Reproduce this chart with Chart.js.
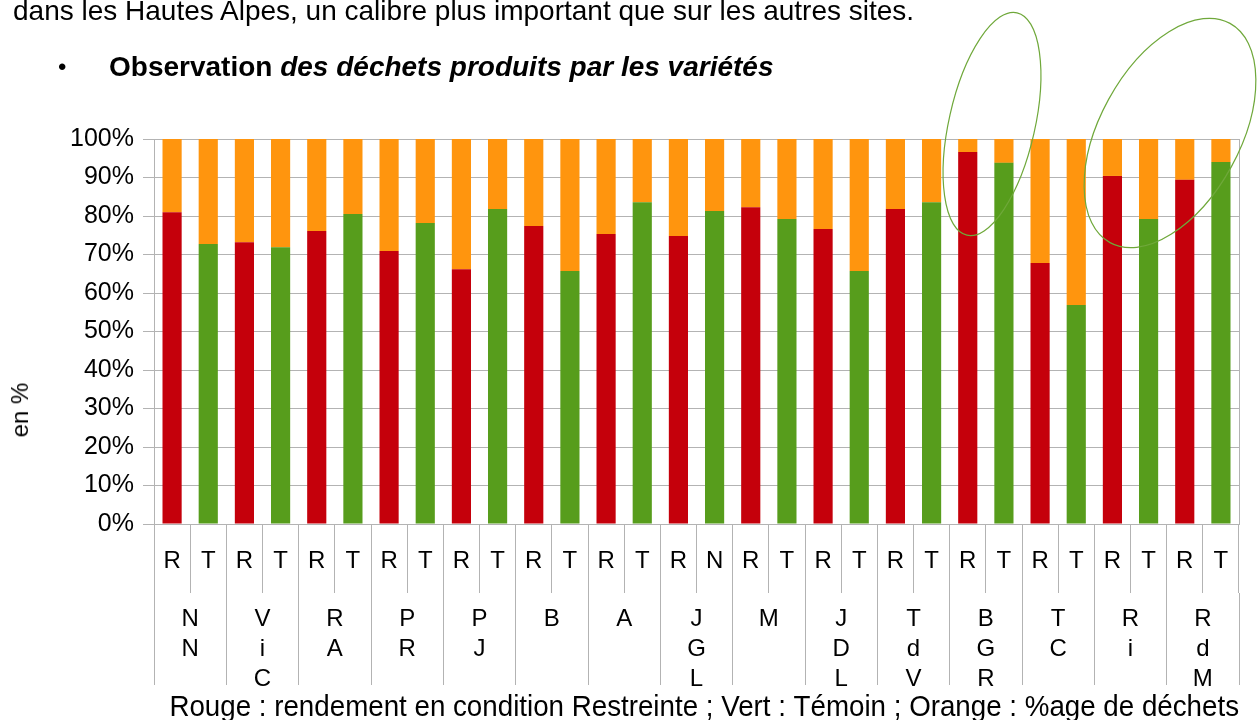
<!DOCTYPE html>
<html lang="fr">
<head>
<meta charset="utf-8">
<script src="https://cdn.jsdelivr.net/npm/chart.js@4.4.1/dist/chart.umd.min.js"></script>
<style>
  html, body { margin: 0; padding: 0; background: #fff; }
  #page { position: relative; width: 1258px; height: 720px; overflow: hidden; font-family: "Liberation Sans", Arial, sans-serif; }
  #page canvas { position: absolute; left: 0; top: 0; }
  .txt { position: absolute; white-space: nowrap; color: #000; line-height: 28px; font-size: 28px; }
  #ligne1 { left: 13px; top: -3px; }
  #puce { left: 58px; top: 53px; font-size: 24px; }
  #ligne2 { left: 109px; top: 53px; font-weight: bold; }
  #titreY { left: 20px; top: 410px; font-size: 24px; line-height: 24px; transform: translate(-50%, -50%) rotate(-90deg); }
</style>
</head>
<body>
<div id="page">
  <canvas id="chartDechets" width="1258" height="720"></canvas>
  <div class="txt" id="ligne1">dans les Hautes Alpes, un calibre plus important que sur les autres sites.</div>
  <div class="txt" id="puce">•</div>
  <div class="txt" id="ligne2">Observation <i>des déchets produits par les variétés</i></div>
  <div class="txt" id="titreY">en %</div>
</div>
<script>
// Variétés (libellés verticaux, une lettre par ligne)
const varietes = [
    ['N', 'N'], ['V', 'i', 'C'], ['R', 'A'], ['P', 'R'], ['P', 'J'],
    ['B'], ['A'], ['J', 'G', 'L'], ['M'], ['J', 'D', 'L'],
    ['T', 'd', 'V'], ['B', 'G', 'R'], ['T', 'C'], ['R', 'i'], ['R', 'd', 'M']
];
// Conditions : R = restreinte, T = témoin
const conditions = [
    'R', 'T', 'R', 'T', 'R', 'T', 'R', 'T', 'R', 'T',
    'R', 'T', 'R', 'T', 'R', 'N', 'R', 'T', 'R', 'T',
    'R', 'T', 'R', 'T', 'R', 'T', 'R', 'T', 'R', 'T'
];
// Rendement (%)
const rendement = [
    81.0, 72.7, 73.2, 71.9, 76.1, 80.5, 70.9, 78.2, 66.2, 81.8,
    77.4, 65.7, 75.3, 83.6, 74.8, 81.3, 82.3, 79.2, 76.6, 65.7,
    81.8, 83.6, 96.6, 93.8, 67.8, 56.9, 90.4, 79.2, 89.4, 94.0
];
// Déchets (%)
const dechets = [
    19.0, 27.3, 26.8, 28.1, 23.9, 19.5, 29.1, 21.8, 33.8, 18.2,
    22.6, 34.3, 24.7, 16.4, 25.2, 18.7, 17.7, 20.8, 23.4, 34.3,
    18.2, 16.4, 3.4, 6.2, 32.2, 43.1, 9.6, 20.8, 10.6, 6.0
];
const graduationsY = [0, 10, 20, 30, 40, 50, 60, 70, 80, 90, 100];

const ROUGE = '#c5000b';
const VERT = '#579d1c';
const ORANGE = '#ff950e';
const GRIS = '#b3b3b3';
const police = 'Liberation Sans';

// Annotations à main levée (ellipses vertes)
const ellipses = {
    id: 'ellipses',
    afterDraw(chart) {
        const ctx = chart.ctx;
        ctx.save();
        ctx.strokeStyle = '#6fa83a';
        ctx.lineWidth = 1.2;
        ctx.beginPath();
        ctx.ellipse(992, 124, 114, 43, -1.349, 0, Math.PI * 2);
        ctx.stroke();
        ctx.beginPath();
        ctx.ellipse(1170, 133, 125, 70, -1.07, 0, Math.PI * 2);
        ctx.stroke();
        ctx.restore();
    }
};

document.addEventListener('DOMContentLoaded', function() {
    const canvas = document.getElementById('chartDechets');
    const ctx = canvas.getContext('2d');

    new Chart(ctx, {
        type: 'bar',
        data: {
            labels: conditions,
            datasets: [{
                label: 'Rendement',
                data: rendement,
                backgroundColor: conditions.map(c => c === 'R' ? ROUGE : VERT),
                stack: 'a'
            }, {
                label: 'Déchets',
                data: dechets,
                backgroundColor: ORANGE,
                stack: 'a'
            }]
        },
        options: {
            responsive: false,
            animation: false,
            layout: { padding: { top: 139, left: 0, right: 0, bottom: 0 } },
            datasets: { bar: { categoryPercentage: 1, barPercentage: 0.53 } },
            plugins: {
                legend: { display: false },
                tooltip: { enabled: false }
            },
            scales: {
                x: {
                    type: 'category',
                    position: 'bottom',
                    stacked: true,
                    weight: 0,
                    offset: true,
                    grid: { offset: true, drawOnChartArea: false, tickLength: 69, color: GRIS },
                    border: { color: GRIS },
                    ticks: {
                        font: { family: police, size: 24 },
                        color: '#000',
                        padding: -46,
                        autoSkip: false,
                        maxRotation: 0
                    },
                    afterFit: s => { s.height = 69; }
                },
                x2: {
                    type: 'category',
                    position: 'bottom',
                    labels: varietes,
                    weight: 1,
                    offset: true,
                    grid: { offset: true, drawOnChartArea: false, tickLength: 92, color: GRIS },
                    border: { display: false },
                    ticks: {
                        font: { family: police, size: 24, lineHeight: 30 / 24 },
                        color: '#000',
                        padding: -81,
                        autoSkip: false,
                        maxRotation: 0
                    },
                    title: {
                        display: true,
                        text: '\u00a0\u00a0Rouge : rendement en condition Restreinte ; Vert : Témoin ; Orange : %age de déchets',
                        font: { family: police, size: 28.7, lineHeight: 1 },
                        color: '#000',
                        padding: { top: 0, bottom: -2 }
                    },
                    afterFit: s => { s.height = 127; }
                },
                y: {
                    stacked: true,
                    min: 0,
                    max: 100,
                    afterBuildTicks: s => { s.ticks = graduationsY.map(v => ({ value: v })); },
                    grid: { color: GRIS, tickLength: 11 },
                    border: { color: GRIS },
                    ticks: {
                        font: { family: police, size: 25 },
                        color: '#000',
                        padding: 9,
                        callback: v => v + '%'
                    },
                    afterFit: s => { s.width = 154; }
                },
                y2: {
                    position: 'right',
                    grid: { display: false },
                    ticks: { display: false },
                    border: { display: true, color: GRIS },
                    afterFit: s => { s.width = 19; }
                }
            }
        },
        plugins: [ellipses]
    });
});
</script>
</body>
</html>
